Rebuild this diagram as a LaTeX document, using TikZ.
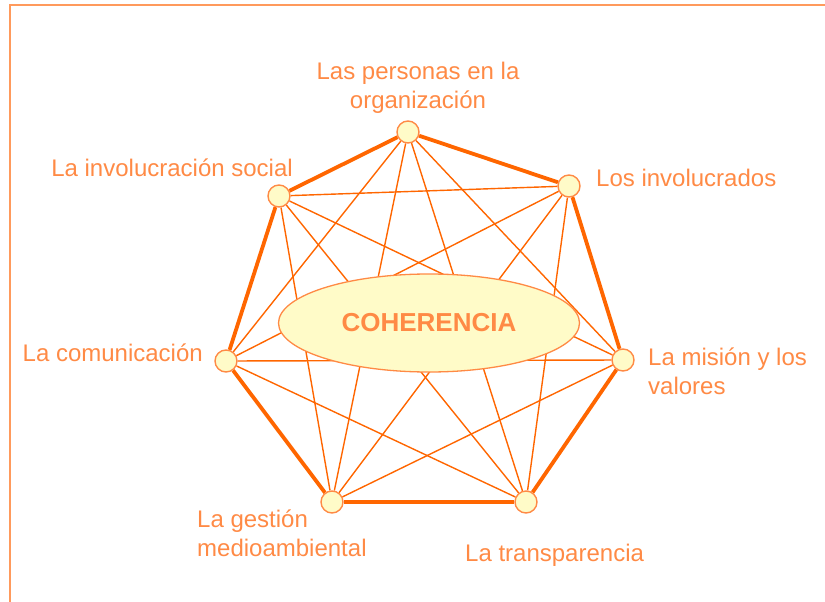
\documentclass[tikz,border=0pt]{standalone}
\usepackage{fontspec}
\setmainfont{Liberation Sans}
\usetikzlibrary{positioning,shapes.geometric,backgrounds}
\definecolor{linea}{HTML}{FF6600}
\definecolor{texto}{HTML}{FF8A45}
\definecolor{relleno}{HTML}{FFFBC8}
\definecolor{marco}{HTML}{FF9A5C}

\begin{document}
\begin{tikzpicture}[x=1pt, y=-1pt,
   punto/.style={circle, draw=texto, fill=relleno, line width=1.4pt, minimum size=22pt, inner sep=0pt},
   etiqueta/.style={text=texto, font=\fontsize{24}{29}\selectfont, align=left, inner sep=0pt},
   lado/.style={draw=linea, line width=3.8pt},
   cuerda/.style={draw=linea, line width=1.4pt}]

   \useasboundingbox (0,0) rectangle (825,602);
   % marco
   \draw[marco, line width=1.5pt] (10,602) -- (10,5) -- (825,5);

   % Define the points
   \node[punto] (personas)      at (408,132) {};
   \node[punto] (involucrados)  at (569,186) {};
   \node[punto] (mision)        at (623,360) {};
   \node[punto] (transparencia) at (526,502) {};
   \node[punto] (gestion)       at (332,502) {};
   \node[punto] (comunicacion)  at (226,361) {};
   \node[punto] (social)        at (279,196) {};

   % centre
   \node[ellipse, draw=texto, fill=relleno, line width=1.3pt, minimum width=301pt, minimum height=98pt,
         text=texto, font=\fontsize{26}{30}\bfseries] (coherencia) at (429,323) {COHERENCIA};

   % Define the labels
   \node[etiqueta, align=center] (l_personas) at (418,88) {Las personas en la\\organización};
   \node[etiqueta, anchor=west] (l_involucrados) at (596,178) {Los involucrados};
   \node[etiqueta, anchor=north west] (l_mision) at (648,348) {La misión y los\\valores};
   \node[etiqueta, anchor=west] (l_transparencia) at (465,555) {La transparencia};
   \node[etiqueta, anchor=north west] (l_gestion) at (197,510) {La gestión\\medioambiental};
   \node[etiqueta, anchor=east] (l_comunicacion) at (203,353) {La comunicación};
   \node[etiqueta, anchor=east] (l_social) at (293,168) {La involucración social};

   % Define connections
   \begin{pgfonlayer}{background}
   \path[cuerda]
    (personas) edge (mision)
               edge (transparencia)
               edge (gestion)
               edge (comunicacion)
    (involucrados) edge (transparencia)
               edge (gestion)
               edge (comunicacion)
               edge (social)
    (mision) edge (gestion)
             edge (comunicacion)
             edge (social)
    (transparencia) edge (comunicacion)
             edge (social)
    (gestion) edge (social);
   \path[lado]
    (personas) edge (involucrados)
    (involucrados) edge (mision)
    (mision) edge (transparencia)
    (transparencia) edge (gestion)
    (gestion) edge (comunicacion)
    (comunicacion) edge (social)
    (social) edge (personas);
   \end{pgfonlayer}

\end{tikzpicture}
\end{document}
